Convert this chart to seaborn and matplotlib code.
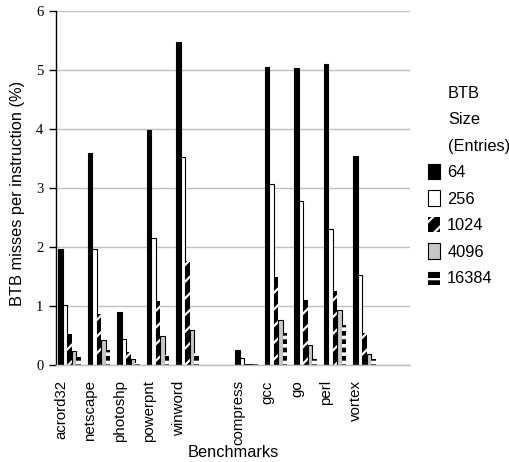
import matplotlib
matplotlib.use("Agg")
import matplotlib.pyplot as plt
import seaborn as sns
import pandas as pd
from matplotlib.patches import Patch

benchmarks = ["acrord32", "netscape", "photoshp", "powerpnt", "winword", " ",
              "compress", "gcc", "go", "perl", "vortex"]
sizes = ["64", "256", "1024", "4096", "16384"]
v64 = [1.97, 3.59, 0.89, 3.98, 5.48, None, 0.25, 5.06, 5.04, 5.11, 3.55]
v256 = [1.02, 1.96, 0.44, 2.16, 3.52, None, 0.12, 3.07, 2.78, 2.31, 1.52]
v1024 = [0.52, 0.87, 0.22, 1.08, 1.77, None, 0.02, 1.50, 1.11, 1.25, 0.55]
v4096 = [0.24, 0.43, 0.10, 0.49, 0.60, None, 0.01, 0.77, 0.34, 0.94, 0.19]
v16384 = [0.13, 0.25, 0.04, 0.17, 0.20, None, 0.01, 0.55, 0.10, 0.68, 0.10]
yticks = [0, 1, 2, 3, 4, 5, 6]

series = {"64": v64, "256": v256, "1024": v1024, "4096": v4096, "16384": v16384}
rows = []
for s in sizes:
    for b, v in zip(benchmarks, series[s]):
        if v is not None:
            rows.append({"bench": b, "size": s, "value": v})
df = pd.DataFrame(rows)

sns.set_theme(style="white")
plt.rcParams["font.family"] = ["Liberation Sans", "DejaVu Sans"]
plt.rcParams["hatch.linewidth"] = 1.6
for k in ["text.color", "axes.labelcolor", "xtick.color", "ytick.color"]:
    plt.rcParams[k] = "black"

fig = plt.figure(figsize=(5.09, 4.62), dpi=100)
ax = fig.add_axes([0.110, 0.210, 0.6955, 0.766])

face = {"64": "black", "256": "white", "1024": "black", "4096": "#c8c8c8", "16384": "black"}
sns.barplot(data=df, x="bench", y="value", hue="size", order=benchmarks,
            hue_order=sizes, palette=face, saturation=1, width=0.763,
            edgecolor="black", linewidth=0.8, ax=ax, legend=False)

hatches = {"1024": "//", "16384": "--"}
hatch_lw = {"1024": 1.6, "16384": 2.6}
for cont, s in zip(ax.containers, sizes):
    for p in cont:
        if s in hatches:
            p.set_hatch(hatches[s])
            p.set_edgecolor("white")
            p.set_linewidth(0)
            if hasattr(p, "set_hatch_linewidth"):
                p.set_hatch_linewidth(hatch_lw[s])

ax.set_xlim(-0.45, 11.55)
ax.set_ylim(0, 6)
ax.set_yticks(yticks)
ax.set_yticklabels([str(t) for t in yticks], family=["Liberation Serif"], fontsize=10.5)
ax.yaxis.grid(True, color="#c0c0c0", linewidth=1)
ax.set_axisbelow(True)
for sp in ["top", "right"]:
    ax.spines[sp].set_visible(False)
ax.spines["left"].set_color("black")
ax.spines["left"].set_linewidth(1)
ax.spines["bottom"].set_color("#c0c0c0")
ax.spines["bottom"].set_linewidth(1)
ax.tick_params(axis="y", left=True, length=5, width=1, color="black", labelcolor="black", pad=4)
ax.tick_params(axis="x", bottom=False, length=0, pad=11, labelcolor="black")

pos = [i - 0.28 for i in range(len(benchmarks))]
ax.set_xticks(pos)
ax.set_xticklabels(benchmarks, rotation=90, fontsize=10.8)
ax.set_xlabel("Benchmarks", fontsize=11.8, color="black")
ax.xaxis.set_label_coords(0.5, -0.225)
ax.set_ylabel("BTB misses per instruction (%)", fontsize=11.8, color="black")
ax.yaxis.set_label_coords(-0.087, 0.485)

handles = []
for s in sizes:
    if s in hatches:
        hp = Patch(facecolor="black", edgecolor="white", linewidth=0, hatch=hatches[s])
        if hasattr(hp, "set_hatch_linewidth"):
            hp.set_hatch_linewidth(hatch_lw[s])
        handles.append(hp)
    else:
        handles.append(Patch(facecolor=face[s], edgecolor="black", linewidth=0.8))
leg = fig.legend(handles, sizes, loc="upper left", bbox_to_anchor=(0.841, 0.645),
                 frameon=False, fontsize=11.8, handlelength=0.75, handleheight=1.04,
                 labelspacing=0.63, handletextpad=0.42, borderpad=0, borderaxespad=0)
for t in leg.get_texts():
    t.set_color("black")

for txt, yy in [("BTB", 93), ("Size", 120), ("(Entries)", 147)]:
    fig.text(448 / 509, 1 - yy / 462, txt, fontsize=11.8, ha="left", va="center", color="black")

fig.savefig("out.png", dpi=100)
